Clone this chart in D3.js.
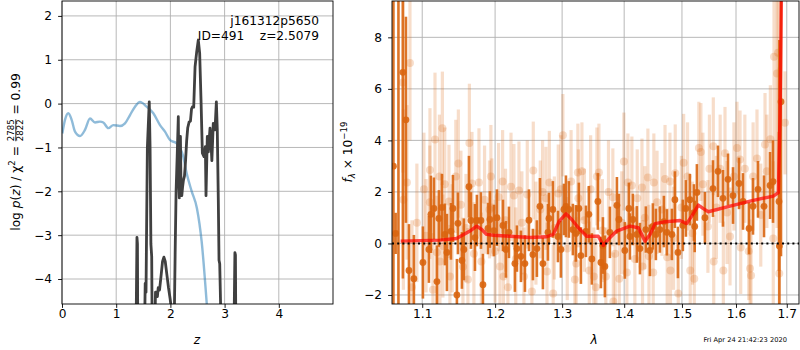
<!DOCTYPE html>
<html>
<head>
<meta charset="utf-8">
<title>Redshift fit</title>
<script src="https://cdn.jsdelivr.net/npm/d3@7"></script>
<style>
  body { margin: 0; background: #fff; }
  svg { font-family: "DejaVu Sans", sans-serif; }
</style>
</head>
<body>
<svg width="800" height="350"></svg>
<script>
// ---------- p(z) panel data
const priorZ   = [0.006, 0.055, 0.117, 0.178, 0.24, 0.332, 0.424, 0.517, 0.609, 0.701, 0.762, 0.855, 0.947, 1.07, 1.162, 1.255, 1.347, 1.439, 1.562, 1.685, 1.808, 1.9, 1.993, 2.116, 2.238, 2.3, 2.393, 2.49, 2.577, 2.67, 2.75];
const priorLog = [-0.68, -0.37, -0.22, -0.37, -0.64, -0.74, -0.6, -0.34, -0.43, -0.41, -0.43, -0.56, -0.49, -0.51, -0.45, -0.26, -0.07, 0.04, -0.07, -0.22, -0.49, -0.64, -0.83, -0.91, -1.21, -1.59, -2.0, -2.39, -3.15, -4.55, -6];

const pzZ   = [1.36, 1.383, 1.392, 1.40,
               1.515, 1.535, 1.55, 1.575, 1.61, 1.625, 1.64, 1.655, 1.668,
               1.70, 1.725, 1.745, 1.76, 1.775, 1.80, 1.83, 1.855, 1.88, 1.905, 1.935, 1.965, 1.995, 2.02, 2.03,
               2.06, 2.09, 2.105, 2.125, 2.146, 2.158, 2.165, 2.175, 2.185, 2.195, 2.21, 2.225, 2.24, 2.26, 2.28, 2.3, 2.32, 2.345, 2.37, 2.39, 2.41, 2.43, 2.455, 2.485, 2.515, 2.54, 2.565, 2.59, 2.62, 2.645, 2.657, 2.681, 2.70, 2.731, 2.749, 2.765, 2.791, 2.823, 2.848, 2.865, 2.884, 2.897, 2.91, 2.93, 2.945,
               3.165, 3.19, 3.2, 3.21];
const pzLog = [-6, -3.05, -3.2, -6,
               -6, -4.1, -4.3, -1.0, 0.04, -1.0, -3.2, -3.49, -6,
               -6, -4.3, -4.3, -4.4, -4.2, -4.25, -3.9, -3.6, -3.5, -3.6, -3.9, -4.2, -4.45, -4.7, -6,
               -6, -3.2, -2.0, -1.2, -0.3, -1.9, -2.15, -1.2, -0.75, -1.8, -2.1, -1.9, -1.75, -1.65, -1.3, -0.85, -0.55, -0.42, -0.4, -0.12, -0.07, -0.08, 0.84, 1.18, 1.45, 1.15, 0.08, -1.13, -1.21, -0.98, -2.1, -0.75, -1.1, -0.56, -0.9, -1.3, -0.45, -0.6, 0.04, -0.6, -2.2, -3.57, -3.65, -4.8, -6,
               -6, -3.4, -3.45, -6];

const zTicks  = [0, 1, 2, 3, 4];
const pzTicks = [-4, -3, -2, -1, 0, 1, 2];

// ---------- spectrum panel data (flux in 1e-19)
const darkWave = [1.0628, 1.0656, 1.0692, 1.0749, 1.0788, 1.0827, 1.0891, 1.1009, 1.1088, 1.1115,
  1.1155, 1.1195, 1.1221, 1.1262, 1.1302, 1.1329, 1.1384, 1.1411, 1.1465, 1.1479,
  1.1534, 1.1561, 1.1631, 1.1659, 1.1715, 1.1742, 1.1799, 1.1827, 1.1898, 1.1926,
  1.1983, 1.2026, 1.2113, 1.2156, 1.2200, 1.2287, 1.2317, 1.2376, 1.2435, 1.2495,
  1.2554, 1.2614, 1.2660, 1.2705, 1.2782, 1.2797, 1.2857, 1.2935, 1.2981, 1.3028,
  1.3059, 1.3105, 1.3168, 1.3215, 1.3263, 1.3295, 1.3375, 1.3422, 1.3470, 1.3567,
  1.3616, 1.3649, 1.3681, 1.3763, 1.3879, 1.3912, 1.4011, 1.4079, 1.4096, 1.4146,
  1.4214, 1.4266, 1.4367, 1.4436, 1.4488, 1.4540, 1.4610, 1.4680, 1.4732, 1.4821,
  1.4874, 1.4928, 1.5016, 1.5071, 1.5143, 1.5216, 1.5230, 1.5270, 1.5417, 1.5566,
  1.5659, 1.5753, 1.5848, 1.5943, 1.6057, 1.6134, 1.6251, 1.6328, 1.6426, 1.6544,
  1.6664, 1.6723, 1.6843, 1.6850, 1.6883];
const darkFlux = [3.0, 0.39, -3.0, 6.64, 4.8, -1.05, -1.37, -0.74, -0.23, 1.13,
  1.36, -1.48, 0.97, 1.40, 0.35, -0.35, 0.47, 1.36, -2.0, 0.78,
  -0.66, -0.23, 2.2, 0.89, 0.23, 0.89, 0.89, -1.6, 0.58, 0.93,
  0.5, 1.0, 0.7, -0.23, 0.43, -0.78, -0.2, -0.5, -0.78, 0.9,
  -0.43, -0.2, 1.44, -0.78, 0.43, 0.97, 1.32, 0.27, -0.23, 1.32,
  1.44, 1.32, 0.54, 0.39, 1.36, -0.47, 0.47, 1.13, -0.6, 1.63,
  -0.74, -0.08, -0.89, 0.43, 1.48, 0.93, -0.27, 1.36, 0.27, 0.93,
  0.35, -0.2, 0.54, -0.27, 0.66, 0.35, 0.54, 0.85, 0.43, 0.35,
  1.7, -0.35, 0.7, 1.36, 1.7, 1.2, 0.66, 1.98, 1.0, 2.13,
  2.8, 1.75, 2.49, 1.86, 2.33, 1.63, 0.58, 1.44, 2.1, 1.44,
  2.25, 2.4, 1.63, -0.1, 5.5];
const darkErr = [14, 0.8, 14, 8, 4, 1.8, 1.7, 1.4, 1.3, 1.5,
  1.2, 1.4, 1.1, 1.3, 1.2, 1.5, 1.1, 1.3, 1.4, 1.2,
  1.1, 1.2, 1.2, 1.1, 1.3, 1.0, 1.1, 1.2, 1.0, 1.1,
  1.0, 1.1, 1.0, 1.1, 1.0, 1.1, 0.9, 1.0, 1.1, 1.2,
  1.0, 1.1, 1.1, 1.0, 1.1, 1.0, 1.1, 1.0, 1.1, 1.0,
  1.2, 1.1, 1.0, 1.1, 1.0, 1.1, 1.0, 1.1, 1.0, 1.1,
  1.0, 1.1, 1.2, 1.0, 1.1, 1.0, 1.1, 1.0, 0.9, 1.0,
  1.1, 1.0, 0.9, 1.0, 0.9, 1.0, 0.9, 1.0, 0.9, 1.0,
  1.1, 1.0, 1.0, 1.1, 1.0, 1.1, 1.0, 1.1, 1.0, 1.1,
  1.0, 1.1, 1.0, 1.1, 1.0, 1.1, 1.0, 1.1, 1.1, 1.2,
  1.3, 1.6, 2.7, 8, 6];

const lightWave = [1.0749, 1.0801, 1.0755, 1.0840, 1.0866, 1.1022, 1.1102, 1.1142, 1.1169, 1.1195,
  1.1228, 1.1235, 1.1268, 1.1275, 1.1357, 1.1370, 1.1485, 1.1548, 1.1617, 1.1637,
  1.1673, 1.1771, 1.1805, 1.1920, 1.1940, 1.1954, 1.2070, 1.2108, 1.2120, 1.2185,
  1.2273, 1.2347, 1.2420, 1.2539, 1.2560, 1.2665, 1.2751, 1.2767, 1.2803, 1.2862,
  1.2940, 1.3012, 1.3199, 1.3220, 1.3247, 1.3255, 1.3311, 1.3428, 1.3502, 1.3535,
  1.3551, 1.3584, 1.3697, 1.3812, 1.3820, 1.3918, 1.3995, 1.4045, 1.4062, 1.4129,
  1.4220, 1.4300, 1.4310, 1.4402, 1.4494, 1.4505, 1.4645, 1.4738, 1.4786, 1.4795,
  1.4880, 1.4934, 1.5030, 1.5149, 1.5222, 1.5306, 1.5343, 1.5472, 1.5572, 1.5580,
  1.5760, 1.5791, 1.5886, 1.6019, 1.6077, 1.6090, 1.6245, 1.6270, 1.6290, 1.6406,
  1.6564, 1.6670, 1.6728, 1.6743, 1.6803, 1.6823, 1.6848, 1.6964,
  1.0930, 1.1050, 1.1100, 1.1300, 1.1400, 1.1450, 1.1520, 1.1590, 1.1700, 1.1850,
  1.2000, 1.2050, 1.2150, 1.2230, 1.2300, 1.2390, 1.2470, 1.2600, 1.2700, 1.2880,
  1.2980, 1.3080, 1.3140, 1.3350, 1.3450, 1.3640, 1.3740, 1.3850, 1.3960, 1.4180,
  1.4350, 1.4420, 1.4560, 1.4700, 1.4850, 1.4990, 1.5100, 1.5190, 1.5380, 1.5500,
  1.5630, 1.5700, 1.5830, 1.5960, 1.6170, 1.6330, 1.6480, 1.6600];
const lightFlux = [6.25, 2.37, 1.7, 7.0, -1.7, 2.1, 2.85, -1.8, 4.03, -0.35,
  2.6, -0.7, 4.47, -0.1, 1.63, -1.28, 3.1, -0.9, -1.4, 3.9,
  2.33, 2.37, -0.7, 1.32, 2.6, 1.4, -0.89, 2.4, -1.28, -1.7,
  1.86, 2.06, -1.28, -1.86, 2.83, 1.32, 1.75, -1.09, 2.37, -1.94,
  1.94, 4.2, -1.4, -0.78, 2.75, 1.75, 2.8, -1.05, -1.28, -1.7,
  2.6, 2.75, -1.28, 1.79, -2.25, -1.37, 3.18, -1.13, 2.37, 2.25,
  1.75, 2.17, -0.89, 2.56, -1.13, 2.37, 1.32, -0.54, 2.4, -1.05,
  2.72, -1.94, 3.13, -1.05, -1.37, 3.7, 3.55, 0.66, 3.77, -0.7,
  -1.05, 3.5, 0.27, 3.7, 3.26, -0.16, -0.3, -0.97, -1.24, 3.3,
  3.84, 4.04, 0.19, 7.25, 6.6, 7.4, -1.17, 4.68,
  0.8, 0.3, 1.6, 2.3, 0.2, 2.6, 1.5, 0.6, -0.4, 1.7,
  -0.3, 1.8, 0.9, 2.2, -0.6, 0.8, 1.9, 0.4, 2.0, 0.6,
  2.1, -0.2, 2.4, 0.9, 2.1, 0.5, 2.0, -0.4, 0.8, -0.6,
  1.0, -0.5, 1.6, 2.5, 0.2, 1.4, 2.6, 0.4, 2.3, 2.9,
  1.4, 2.9, 1.2, 2.6, 2.9, 2.6, 1.1, 2.8];
const lightErr = [3.5, 3.0, 3.5, 3.0, 2.6, 2.2, 2.4, 2.2, 2.6, 2.2,
  2.4, 2.0, 2.2, 2.0, 2.2, 2.0, 2.1, 1.9, 2.0, 2.3,
  2.0, 2.1, 1.9, 1.9, 2.0, 1.9, 1.9, 2.0, 1.9, 1.9,
  2.0, 1.9, 1.9, 1.9, 1.9, 1.9, 2.0, 1.9, 2.0, 1.9,
  1.9, 1.6, 1.9, 1.8, 1.9, 1.9, 1.9, 1.9, 1.9, 1.9,
  1.9, 1.9, 1.9, 1.9, 1.9, 1.9, 1.9, 1.9, 1.9, 1.9,
  1.9, 1.9, 1.8, 1.9, 1.9, 1.9, 1.8, 1.9, 1.9, 1.8,
  1.9, 1.9, 1.9, 1.9, 1.9, 1.8, 1.9, 1.8, 1.9, 1.8,
  1.9, 1.8, 1.9, 1.8, 1.9, 1.8, 1.9, 1.9, 1.9, 1.9,
  2.0, 2.1, 3.0, 5, 6, 5, 8, 2.0,
  2.3, 2.2, 2.2, 2.2, 2.1, 2.2, 2.1, 2.1, 2.0, 2.1,
  2.0, 2.1, 2.0, 2.1, 2.0, 2.0, 2.1, 2.0, 2.0, 2.0,
  2.1, 2.0, 2.0, 2.0, 2.1, 2.0, 2.0, 2.0, 2.0, 2.0,
  2.0, 2.0, 2.0, 2.1, 2.0, 2.0, 2.1, 2.0, 2.0, 2.1,
  2.0, 2.1, 2.0, 2.1, 2.1, 2.1, 2.0, 2.2];

const modelWave = [1.072, 1.1235, 1.146, 1.1645, 1.1739, 1.181, 1.188, 1.1973, 1.2215, 1.251,
  1.2762, 1.2863, 1.2956, 1.306, 1.315, 1.3254, 1.3387, 1.3493, 1.3574, 1.3655,
  1.3737, 1.3875, 1.4097, 1.4238, 1.4352, 1.4439, 1.4525, 1.467, 1.4965, 1.5085,
  1.5176, 1.5296, 1.5388, 1.548, 1.5887, 1.6271, 1.673, 1.683, 1.6864, 1.6905];
const modelFlux = [0.09, 0.13, 0.19, 0.48, 0.67, 0.54, 0.35, 0.32, 0.28, 0.23,
  0.26, 0.35, 0.87, 1.15, 0.93, 0.61, 0.28, 0.28, 0.28, -0.08,
  0.16, 0.48, 0.67, 0.61, 0.09, 0.35, 0.77, 0.83, 0.89, 0.77,
  1.06, 1.49, 1.35, 1.23, 1.45, 1.64, 1.84, 1.97, 5, 12];

const waveTicks = [1.1, 1.2, 1.3, 1.4, 1.5, 1.6, 1.7];
const fluxTicks = [-2, 0, 2, 4, 6, 8];

const FS = 12.2;
const SM = 8.6;
const svg = d3.select('svg');
const defs = svg.append('defs');

function clip(id, x0, y0, x1, y1) {
  defs.append('clipPath').attr('id', id).append('rect')
    .attr('x', x0).attr('y', y0).attr('width', x1 - x0).attr('height', y1 - y0);
}

function grid(g, xs, ys, xt, yt) {
  const [x0, x1] = xs.range(), [y1, y0] = ys.range();
  g.selectAll('.gx').data(xt).join('line')
    .attr('x1', d => xs(d)).attr('x2', d => xs(d)).attr('y1', y0).attr('y2', y1)
    .attr('stroke', '#b0b0b0').attr('stroke-width', 0.9);
  g.selectAll('.gy').data(yt).join('line')
    .attr('x1', x0).attr('x2', x1).attr('y1', d => ys(d)).attr('y2', d => ys(d))
    .attr('stroke', '#b0b0b0').attr('stroke-width', 0.9);
}

function axes(xs, ys, xt, yt, xfmt, yfmt) {
  const [x0, x1] = xs.range(), [y1, y0] = ys.range();
  const ax = svg.append('g').attr('transform', `translate(0,${y1})`)
    .call(d3.axisBottom(xs).tickValues(xt).tickSize(3.9).tickPadding(1).tickFormat(xfmt));
  const ay = svg.append('g').attr('transform', `translate(${x0},0)`)
    .call(d3.axisLeft(ys).tickValues(yt).tickSize(3.9).tickPadding(6).tickFormat(yfmt));
  [ax, ay].forEach(a => {
    a.attr('font-family', null).attr('font-size', null);
    a.select('.domain').remove();
    a.selectAll('line').attr('stroke', '#000').attr('stroke-width', 0.9);
    a.selectAll('text').style('font-size', FS + 'px').attr('fill', '#000');
  });
  svg.append('rect').attr('x', x0).attr('y', y0).attr('width', x1 - x0).attr('height', y1 - y0)
    .attr('fill', 'none').attr('stroke', '#000').attr('stroke-width', 0.9);
}

// label made of pieces, laid out left to right and centred on 0
function mathLabel(parent, parts) {
  const g = parent.append('g');
  let x = 0;
  for (const p of parts) {
    if (p.num) {
      const a = g.append('text').attr('y', p.ny).style('font-size', p.size + 'px').attr('text-anchor', 'middle').text(p.num);
      const b = g.append('text').attr('y', p.dy).style('font-size', p.size + 'px').attr('text-anchor', 'middle').text(p.den);
      const w = Math.max(a.node().getComputedTextLength(), b.node().getComputedTextLength());
      a.attr('x', x + 1 + w / 2);
      b.attr('x', x + 1 + w / 2);
      g.append('line').attr('x1', x + 1).attr('x2', x + 1 + w).attr('y1', p.by).attr('y2', p.by)
        .attr('stroke', '#000').attr('stroke-width', 0.8);
      x += w + 2;
    } else {
      const t = g.append('text').attr('x', x).attr('y', p.y || 0)
        .style('font-size', (p.size || FS) + 'px')
        .style('font-style', p.it ? 'italic' : 'normal')
        .style('white-space', 'pre').text(p.t);
      x += t.node().getComputedTextLength();
    }
  }
  g.attr('transform', `translate(${-x / 2},0)`);
  return g;
}

// ================= left panel: p(z)
const zx = d3.scaleLinear().domain([0, 5]).range([62, 333]);
const zy = d3.scaleLinear().domain([-4.57, 2.34]).range([304, 1]);
clip('clipL', 62, 1, 333, 304);

grid(svg.append('g'), zx, zy, zTicks, pzTicks);

const left = svg.append('g').attr('clip-path', 'url(#clipL)');
left.append('path')
  .datum(d3.zip(priorZ, priorLog))
  .attr('d', d3.line().x(d => zx(d[0])).y(d => zy(d[1])).curve(d3.curveMonotoneX))
  .attr('fill', 'none').attr('stroke', '#1f77b4').attr('stroke-opacity', 0.5).attr('stroke-width', 2.4);
left.append('path')
  .datum(d3.zip(pzZ, pzLog))
  .attr('d', d3.line().x(d => zx(d[0])).y(d => zy(d[1])))
  .attr('fill', 'none').attr('stroke', '#404040').attr('stroke-width', 2.8).attr('stroke-linejoin', 'round');

axes(zx, zy, zTicks, pzTicks, d3.format('d'), d3.format('d'));

svg.append('text').attr('x', 319).attr('y', 25).attr('text-anchor', 'end')
  .style('font-size', FS + 'px').text('j161312p5650');
svg.append('text').attr('x', 319).attr('y', 39.5).attr('text-anchor', 'end')
  .style('font-size', FS + 'px').style('white-space', 'pre').text('ID=491    z=2.5079');

svg.append('text').attr('x', 197).attr('y', 344).attr('text-anchor', 'middle')
  .style('font-size', FS + 'px').style('font-style', 'italic').text('z');

mathLabel(svg.append('g').attr('transform', 'translate(20,152) rotate(-90)'), [
  { t: 'log ' }, { t: 'p', it: true }, { t: '(' }, { t: 'z', it: true }, { t: ') / χ' },
  { t: '2', size: SM, y: -5 }, { t: ' = ' },
  { num: '2785', den: '2822', size: SM, ny: -6.5, dy: 3, by: -4.2 },
  { t: ' = 0.99' }
]);

// ================= right panel: spectrum
const wx = d3.scaleLog().domain([1.061, 1.725]).range([392, 799]);
const fy = d3.scaleLinear().domain([-2.35, 9.41]).range([304, 1]);
clip('clipR', 392, 1, 799, 304);

grid(svg.append('g'), wx, fy, waveTicks, fluxTicks);

const right = svg.append('g').attr('clip-path', 'url(#clipR)');
const orange = '#d9650f';

const light = d3.range(lightWave.length);
right.append('g').selectAll('line').data(light).join('line')
  .attr('x1', i => wx(lightWave[i])).attr('x2', i => wx(lightWave[i]))
  .attr('y1', i => fy(lightFlux[i] - lightErr[i])).attr('y2', i => fy(lightFlux[i] + lightErr[i]))
  .attr('stroke', orange).attr('stroke-opacity', 0.22).attr('stroke-width', 3.2);
right.append('g').selectAll('circle').data(light).join('circle')
  .attr('cx', i => wx(lightWave[i])).attr('cy', i => fy(lightFlux[i])).attr('r', 4)
  .attr('fill', orange).attr('fill-opacity', 0.22);

const dark = d3.range(darkWave.length);
right.append('g').selectAll('line').data(dark).join('line')
  .attr('x1', i => wx(darkWave[i])).attr('x2', i => wx(darkWave[i]))
  .attr('y1', i => fy(darkFlux[i] - darkErr[i])).attr('y2', i => fy(darkFlux[i] + darkErr[i]))
  .attr('stroke', orange).attr('stroke-opacity', 0.9).attr('stroke-width', 2.6);
right.append('g').selectAll('circle').data(dark).join('circle')
  .attr('cx', i => wx(darkWave[i])).attr('cy', i => fy(darkFlux[i])).attr('r', 3.4)
  .attr('fill', orange).attr('fill-opacity', 0.9);

right.append('path')
  .datum(d3.zip(modelWave, modelFlux))
  .attr('d', d3.line().x(d => wx(d[0])).y(d => fy(d[1])))
  .attr('fill', 'none').attr('stroke', 'red').attr('stroke-opacity', 0.7).attr('stroke-width', 3.4)
  .attr('stroke-linejoin', 'round');

right.append('line')
  .attr('x1', 392).attr('x2', 799).attr('y1', fy(0)).attr('y2', fy(0))
  .attr('stroke', '#000').attr('stroke-width', 2).attr('stroke-dasharray', '2,3.2');

axes(wx, fy, waveTicks, fluxTicks, d3.format('.1f'), d3.format('d'));

svg.append('text').attr('x', 594).attr('y', 344).attr('text-anchor', 'middle')
  .style('font-size', FS + 'px').style('font-style', 'italic').text('λ');

mathLabel(svg.append('g').attr('transform', 'translate(352,152) rotate(-90)'), [
  { t: 'f', it: true }, { t: 'λ', size: SM, y: 3, it: true }, { t: ' × 10' },
  { t: '−19', size: SM, y: -5.5 }
]);

svg.append('text').attr('x', 787).attr('y', 342).attr('text-anchor', 'end')
  .style('font-size', '6.7px').text('Fri Apr 24 21:42:23 2020');
</script>
</body>
</html>
